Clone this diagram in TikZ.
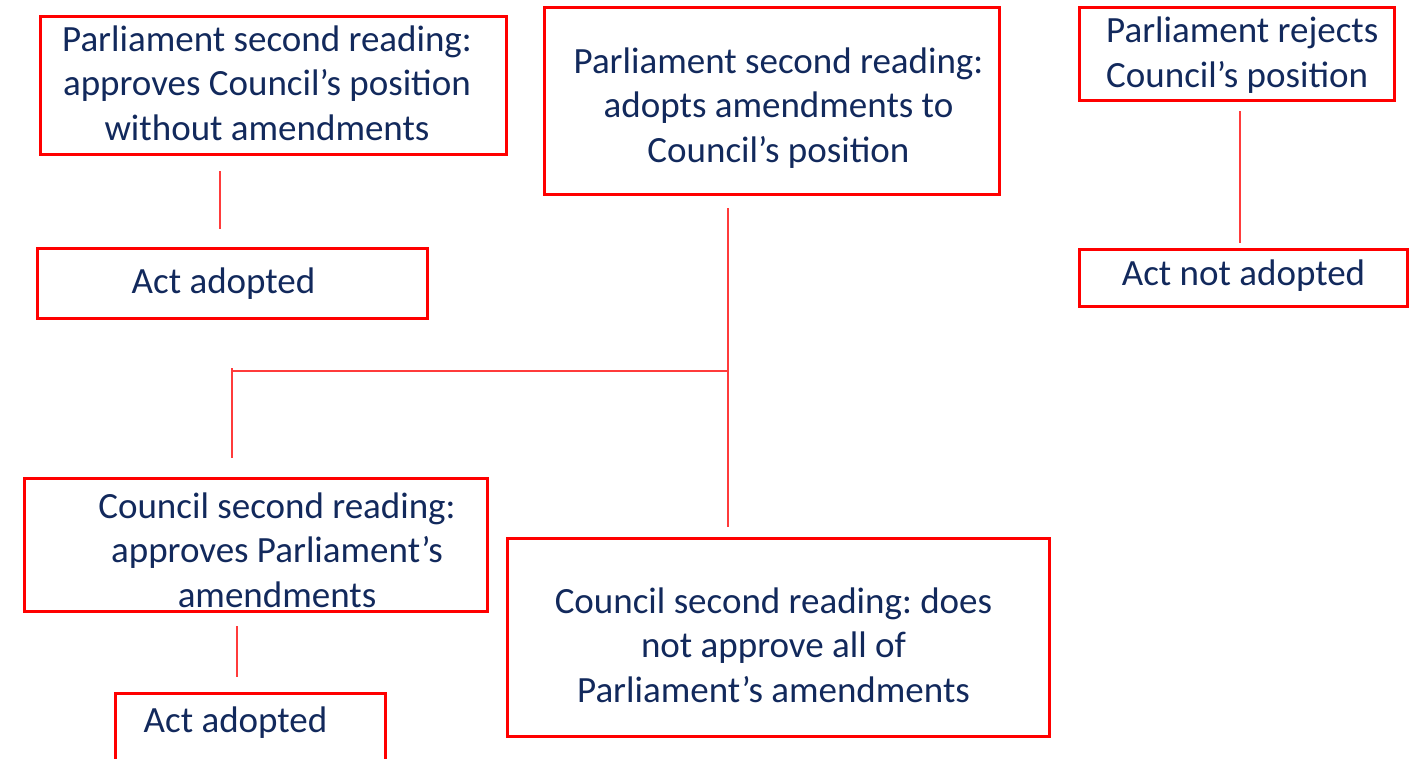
\documentclass[tikz,border=0pt]{standalone}
\usepackage{fontspec}
\setmainfont{Carlito}
\frenchspacing
\definecolor{navy}{HTML}{12295C}
\definecolor{boxred}{HTML}{FF0000}
\definecolor{linered}{HTML}{FF3B3B}
\tikzset{
  box/.style={draw=boxred, line width=3pt, rectangle, inner sep=0pt},
  lbl/.style={text=navy, font=\fontsize{37}{44.5}\selectfont\frenchspacing, inner sep=0pt, anchor=base},
  conn/.style={draw=linered, line width=1.5pt}
}
\begin{document}
\begin{tikzpicture}[x=1pt,y=-1pt]
\useasboundingbox (0,0) rectangle (1418,758);
% boxes
\node[box, minimum width=466pt, minimum height=138pt] (A) at (273,85) {};
\node[box, minimum width=390pt, minimum height=70pt] (B) at (232,283) {};
\node[box, minimum width=455pt, minimum height=187pt] (C) at (771.5,100.5) {};
\node[box, minimum width=315pt, minimum height=93pt] (D) at (1236.5,53.5) {};
\node[box, minimum width=328pt, minimum height=57pt] (E) at (1243,277.5) {};
\node[box, minimum width=463pt, minimum height=133pt] (F) at (255.5,544.5) {};
\node[box, minimum width=270pt, minimum height=97pt] (G) at (250,742) {};
\node[box, minimum width=542pt, minimum height=198pt] (H) at (778,637) {};
% texts (base anchor = baseline of last line)
\node[lbl, align=center] (tA) at (267,140) {Parliament second reading:\\approves Council’s position\\without amendments};
\node[lbl] (tB) at (223.5,293) {Act adopted};
\node[lbl, align=center] (tC) at (778.5,162) {Parliament second reading:\\adopts amendments to\\Council’s position};
\node[lbl, align=left, anchor=base west] (tD) at (1106,87) {Parliament rejects\\Council’s position};
\node[lbl] (tE) at (1243.5,285) {Act not adopted};
\node[lbl, align=center] (tF) at (277,607) {Council second reading:\\approves Parliament’s\\amendments};
\node[lbl] (tG) at (235.5,732) {Act adopted};
\node[lbl, align=center] (tH) at (773.5,702) {Council second reading: does\\not approve all of\\Parliament’s amendments};
% connector coordinates
\coordinate (a1) at (220,171);
\coordinate (b1) at (220,229);
\coordinate (c1) at (728,208);
\coordinate (c2) at (728,371);
\coordinate (h1) at (728,527);
\coordinate (l1) at (231,371);
\coordinate (l0) at (232,368);
\coordinate (f1) at (232,458);
\coordinate (d1) at (1240,111);
\coordinate (e1) at (1240,243);
\coordinate (f2) at (237,626);
\coordinate (g1) at (237,677);
% connectors
\draw[conn] (a1) -- (b1);
\draw[conn] (c1) -- (h1);
\draw[conn] (c2) -- (l1);
\draw[conn] (l0) -- (f1);
\draw[conn] (d1) -- (e1);
\draw[conn] (f2) -- (g1);
\end{tikzpicture}
\end{document}
